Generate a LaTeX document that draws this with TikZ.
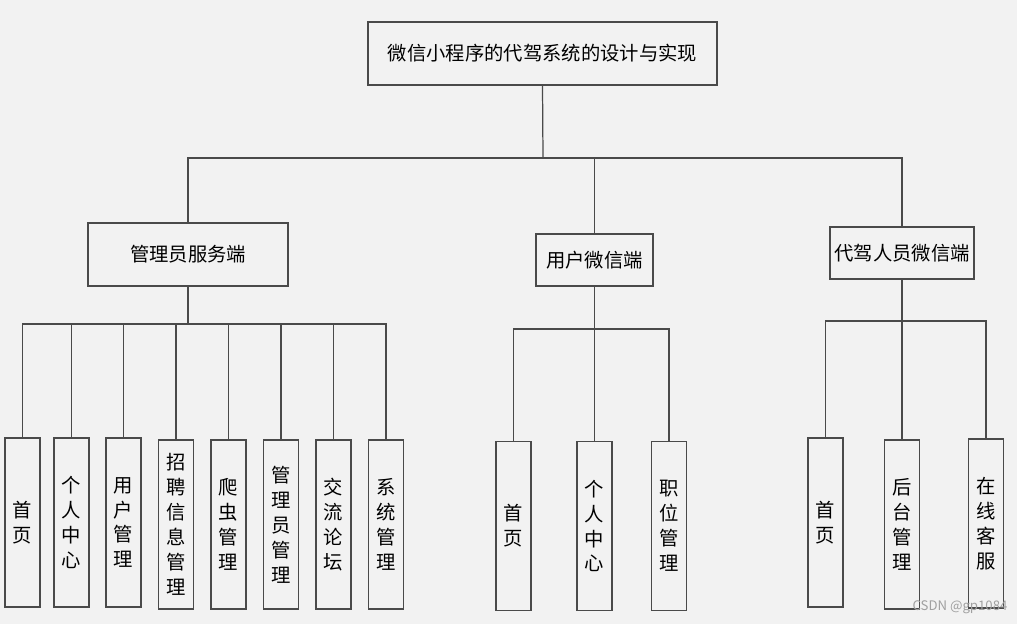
\documentclass[tikz,border=0pt]{standalone}
\usepackage{fontspec}
\setmainfont{Noto Sans CJK SC}
\usepackage{xcolor}
\usepackage{tikz}
\usetikzlibrary{positioning,calc}
\definecolor{paper}{HTML}{F2F2F2}
\definecolor{ink}{HTML}{4A4A4A}
\definecolor{mark}{HTML}{A0A0A0}
\tikzset{
  topbox/.style ={draw=ink,line width=0.7pt,fill=paper,inner sep=0pt,align=center,
                  font=\fontsize{11pt}{14pt}\selectfont},
  endbox/.style ={topbox,minimum width=0.7cm,minimum height=3.38cm,
                  font=\fontsize{11pt}{14.2pt}\selectfont},
  link/.style   ={draw=ink,line width=0.7pt}
}

\begin{document}
\begin{tikzpicture}[x=0.02cm,y=-0.02cm]
    \fill[paper] (0,0) rectangle (1017,624);
    \useasboundingbox (0,0) rectangle (1017,624);
    % top level
    \node[topbox,minimum width=6.98cm,minimum height=1.26cm] (root) at (542.5,53.5) {微信小程序的代驾系统的设计与实现};
    \node[topbox,minimum width=4cm,minimum height=1.26cm] (admin) at (188,254.5) {管理员服务端};
    \node[topbox,minimum width=2.34cm,minimum height=1.04cm] (user) at (594.5,260) {用户微信端};
    \node[topbox,minimum width=2.88cm,minimum height=1.04cm] (driver) at (902,253) {代驾人员微信端};
    % admin side
    \node[endbox] (a1) at (22.5,522.5) {首\\页};
    \node[endbox] (a2) at (71.5,522.5) {个\\人\\中\\心};
    \node[endbox] (a3) at (123.5,522.5) {用\\户\\管\\理};
    \node[endbox] (a4) at (176,524.5) {招\\聘\\信\\息\\管\\理};
    \node[endbox] (a5) at (228.5,524.5) {爬\\虫\\管\\理};
    \node[endbox] (a6) at (281,524.5) {管\\理\\员\\管\\理};
    \node[endbox] (a7) at (333.5,524.5) {交\\流\\论\\坛};
    \node[endbox] (a8) at (386,524.5) {系\\统\\管\\理};
    % user side
    \node[endbox] (u1) at (513.5,526) {首\\页};
    \node[endbox] (u2) at (594.5,526) {个\\人\\中\\心};
    \node[endbox] (u3) at (669,526) {职\\位\\管\\理};
    % driver side
    \node[endbox] (d1) at (825.5,522.5) {首\\页};
    \node[endbox] (d2) at (902,524.5) {后\\台\\管\\理};
    \node[endbox] (d3) at (986,523.5) {在\\线\\客\\服};
    % buses
    \coordinate (tbus) at (543,158);
    \coordinate (abus) at (188,324);
    \coordinate (ubus) at (594.5,329);
    \coordinate (dbus) at (902,321);
    \draw[link] (root.south) -- (tbus);
    \draw[link] (admin.north) |- (tbus); \draw[link] (user.north) |- (tbus);
    \draw[link] (driver.north) |- (tbus);
    \draw[link] (admin.south) -- (abus);
    \draw[link] (a1.north) |- (abus); \draw[link] (a2.north) |- (abus);
    \draw[link] (a3.north) |- (abus); \draw[link] (a4.north) |- (abus);
    \draw[link] (a5.north) |- (abus); \draw[link] (a6.north) |- (abus);
    \draw[link] (a7.north) |- (abus); \draw[link] (a8.north) |- (abus);
    \draw[link] (user.south) -- (ubus);
    \draw[link] (u1.north) |- (ubus); \draw[link] (u2.north) |- (ubus);
    \draw[link] (u3.north) |- (ubus);
    \draw[link] (driver.south) -- (dbus);
    \draw[link] (d1.north) |- (dbus); \draw[link] (d2.north) |- (dbus);
    \draw[link] (d3.north) |- (dbus);
    \node[text=mark,font=\fontsize{7.5pt}{8pt}\selectfont,inner sep=0pt] (wm) at (960,607) {CSDN @gp1084};
  \end{tikzpicture}
\end{document}
